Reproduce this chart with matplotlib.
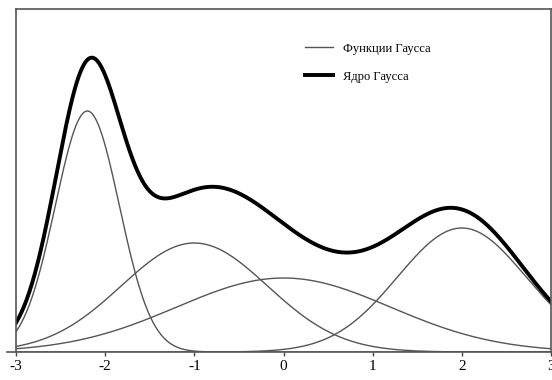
import numpy as np
import matplotlib
matplotlib.use("Agg")
import matplotlib.pyplot as plt
from matplotlib.lines import Line2D

# Gaussian components
centers = [-2.2, -1.0, 0.0, 2.0]
amplitudes = [2.41, 1.09, 0.74, 1.24]
sigmas = [0.36, 0.82, 1.2, 0.72]
xticks = [-3, -2, -1, 0, 1, 2, 3]
legend_labels = ["Функции Гаусса", "Ядро Гаусса"]

plt.rcParams['font.family'] = ['Liberation Serif', 'DejaVu Serif']

fig = plt.figure(figsize=(5.52, 3.80), dpi=100)
ax = fig.add_axes([16/552, 1-352/380, 535/552, 343/380])

x = np.linspace(-3, 3, 600)
total = np.zeros_like(x)
for i, (c, a, s) in enumerate(zip(centers, amplitudes, sigmas)):
    g = a * np.exp(-(x - c)**2 / (2 * s**2))
    total += g
    ax.plot(x, g, color='#555555', lw=1.0, label=legend_labels[0] if i == 0 else None)
ax.plot(x, total, color='black', lw=2.8, label=legend_labels[1])

ax.set_xlim(-3, 3)
ax.set_ylim(0, 3.43)
ax.set_xticks(xticks)
ax.set_xticklabels([str(t) for t in xticks], fontsize=11)
ax.set_yticks([])
ax.tick_params(axis='x', direction='out', length=3, width=1, color='#444444', pad=3)
for sp in ax.spines.values():
    sp.set_color('#555555')
    sp.set_linewidth(1.2)

# axis line extends slightly left of frame
ax.add_line(Line2D([-0.017, 0], [0, 0], transform=ax.transAxes, color='#555555', lw=1.2, clip_on=False))

leg = ax.legend(loc='upper left', bbox_to_anchor=(0.52, 0.935), frameon=False,
                fontsize=9, handlelength=2.2, labelspacing=1.3, handletextpad=0.8)

fig.savefig('out.png', dpi=100)
